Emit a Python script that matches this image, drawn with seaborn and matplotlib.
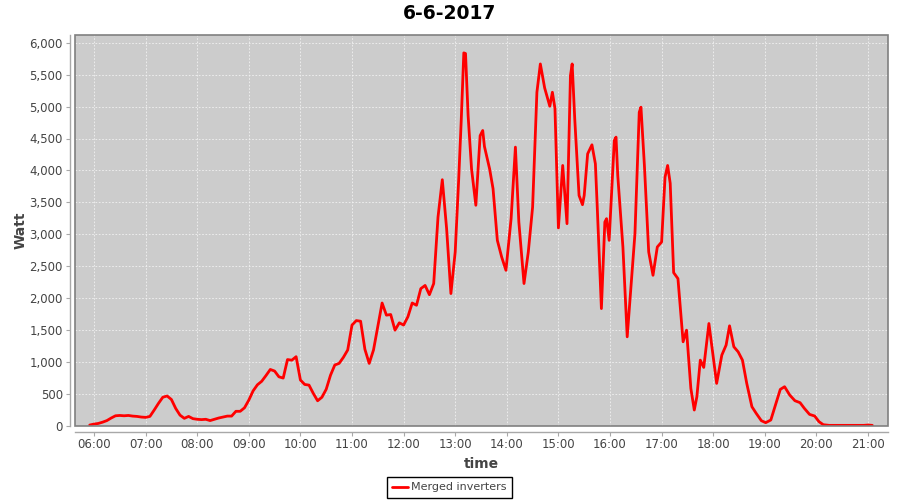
import pandas as pd
import matplotlib
matplotlib.use("Agg")
import matplotlib.pyplot as plt
import matplotlib.dates as mdates
import matplotlib.ticker as mticker
from matplotlib.patches import Rectangle
import seaborn as sns

# readings of the merged inverters on 6-6-2017
times = [
    "05:55", "06:00", "06:05", "06:10", "06:15", "06:20", "06:25", "06:30", "06:35", "06:40",
    "06:45", "06:50", "06:55", "07:00", "07:05", "07:10", "07:15", "07:20", "07:25", "07:30",
    "07:35", "07:40", "07:45", "07:50", "07:55", "08:00", "08:05", "08:10", "08:15", "08:20",
    "08:25", "08:30", "08:35", "08:40", "08:45", "08:50", "08:55", "09:00", "09:05", "09:10",
    "09:15", "09:20", "09:25", "09:30", "09:35", "09:40", "09:45", "09:50", "09:55", "10:00",
    "10:05", "10:10", "10:15", "10:20", "10:25", "10:30", "10:35", "10:40", "10:45", "10:50",
    "10:55", "11:00", "11:05", "11:10", "11:15", "11:20", "11:25", "11:30", "11:35", "11:40",
    "11:45", "11:50", "11:55", "12:00", "12:05", "12:10", "12:15", "12:20", "12:25", "12:30",
    "12:35", "12:40", "12:45", "12:50", "12:55", "13:00", "13:04", "13:07", "13:10", "13:12",
    "13:15", "13:19", "13:24", "13:29", "13:32", "13:34", "13:40", "13:44", "13:49", "13:54",
    "13:59", "14:05", "14:10", "14:14", "14:20", "14:25", "14:30", "14:35", "14:39", "14:44",
    "14:50", "14:53", "14:56", "15:00", "15:05", "15:10", "15:14", "15:16", "15:19", "15:24",
    "15:28", "15:30", "15:34", "15:39", "15:43", "15:45", "15:50", "15:54", "15:56", "15:59",
    "16:05", "16:07", "16:09", "16:15", "16:20", "16:25", "16:29", "16:34", "16:36", "16:40",
    "16:45", "16:50", "16:55", "17:00", "17:04", "17:07", "17:10", "17:14", "17:19", "17:25",
    "17:29", "17:34", "17:38", "17:41", "17:45", "17:49", "17:55", "17:59", "18:04", "18:10",
    "18:15", "18:19", "18:24", "18:29", "18:34", "18:39", "18:45", "18:50", "18:56", "19:01",
    "19:07", "19:13", "19:18", "19:23", "19:29", "19:35", "19:41", "19:46", "19:52", "19:58",
    "20:03", "20:08", "20:15", "20:25", "20:35", "20:45", "20:55", "21:00", "21:05",
]
watts = [
    15, 30, 40, 60, 85, 125, 160, 165, 160, 165,
    155, 150, 140, 135, 150, 250, 355, 450, 470, 415,
    275, 170, 120, 150, 115, 105, 100, 105, 85, 105,
    125, 140, 155, 155, 230, 230, 285, 405, 550, 645,
    700, 790, 885, 860, 770, 750, 1040, 1030, 1085, 720,
    650, 640, 510, 395, 450, 575, 795, 955, 980, 1075,
    1190, 1580, 1650, 1640, 1200, 980, 1190, 1560, 1925, 1735,
    1745, 1500, 1615, 1580, 1710, 1925, 1890, 2150, 2200, 2055,
    2230, 3270, 3855, 3090, 2073, 2725, 3845, 4780, 5840, 5830,
    4860, 4025, 3455, 4545, 4625, 4375, 4025, 3714, 2906, 2646,
    2437, 3245, 4365, 3193, 2230, 2725, 3427, 5224, 5667, 5292,
    5005, 5224, 4970, 3100, 4078, 3167, 5484, 5667, 4807, 3609,
    3464, 3609, 4260, 4401, 4104, 3480, 1838, 3193, 3245, 2906,
    4469, 4521, 3922, 2802, 1396, 2281, 3010, 4911, 4990, 4078,
    2724, 2359, 2802, 2880, 3896, 4078, 3800, 2400, 2307, 1318,
    1500, 589, 250, 458, 1031, 917, 1604, 1187, 667, 1109,
    1266, 1568, 1240, 1161, 1031, 667, 302, 198, 83, 52,
    94, 354, 573, 615, 484, 396, 365, 276, 182, 156,
    68, 20, 10, 10, 10, 10, 10, 15, 10,
]
series_name = "Merged inverters"
day = "2017-06-06"

df = pd.DataFrame({"time": pd.to_datetime([f"{day} {t}" for t in times]), "watt": watts})

sns.set_theme(style="white")
plt.rcParams["font.family"] = ["DejaVu Sans"]
text_col = "#444444"

fig = plt.figure(figsize=(9, 5), dpi=100)
ax = fig.add_axes([75.3 / 900, 1 - 426 / 500, (888 - 75.3) / 900, (426 - 35) / 500])
ax.set_facecolor("#cccccc")

sns.lineplot(data=df, x="time", y="watt", ax=ax, color="#ff0000", lw=2.0, label=series_name)

ax.set_ylim(0, 6120)
ax.set_xlim(pd.Timestamp(f"{day} 05:38:15"), pd.Timestamp(f"{day} 21:23:15"))
ax.yaxis.set_major_locator(mticker.MultipleLocator(500))
ax.yaxis.set_major_formatter(mticker.StrMethodFormatter("{x:,.0f}"))
ax.xaxis.set_major_locator(mdates.HourLocator())
ax.xaxis.set_major_formatter(mdates.DateFormatter("%H:%M"))

ax.grid(True, color="#f2f2f2", lw=0.6, ls=(0, (2, 2)))
ax.set_axisbelow(True)

for side in ["top", "right"]:
    ax.spines[side].set_visible(False)
for side in ["left", "bottom"]:
    ax.spines[side].set_position(("outward", 4))
    ax.spines[side].set_color("#a8a8a8")
    ax.spines[side].set_linewidth(1)
ax.add_patch(Rectangle((0, 0), 1, 1, transform=ax.transAxes, fill=False,
                       ec="#808080", lw=1.2, zorder=5, clip_on=False))

ax.tick_params(axis="both", which="major", direction="out", length=3, width=0.8,
               color="#a8a8a8", labelsize=8.5, labelcolor=text_col, pad=2,
               left=True, bottom=True)

ax.set_xlabel("time", fontsize=10, fontweight="bold", color=text_col, labelpad=4)
ax.set_ylabel("Watt", fontsize=10, fontweight="bold", color=text_col, labelpad=1)
fig.suptitle("6-6-2017", x=0.5, y=1 - 13.5 / 500, va="center",
             fontsize=13.5, fontweight="bold", color="black")

handles, labels = ax.get_legend_handles_labels()
ax.get_legend().remove()
leg = fig.legend(handles, labels, loc="center", bbox_to_anchor=(449.5 / 900, 1 - 487.5 / 500),
                 frameon=True, fancybox=False, framealpha=1, edgecolor="black",
                 fontsize=8, handlelength=1.4, handletextpad=0.3, borderpad=0.5,
                 borderaxespad=0)
leg.get_frame().set_linewidth(1)
for t in leg.get_texts():
    t.set_color(text_col)

fig.savefig("out.png", dpi=100)
